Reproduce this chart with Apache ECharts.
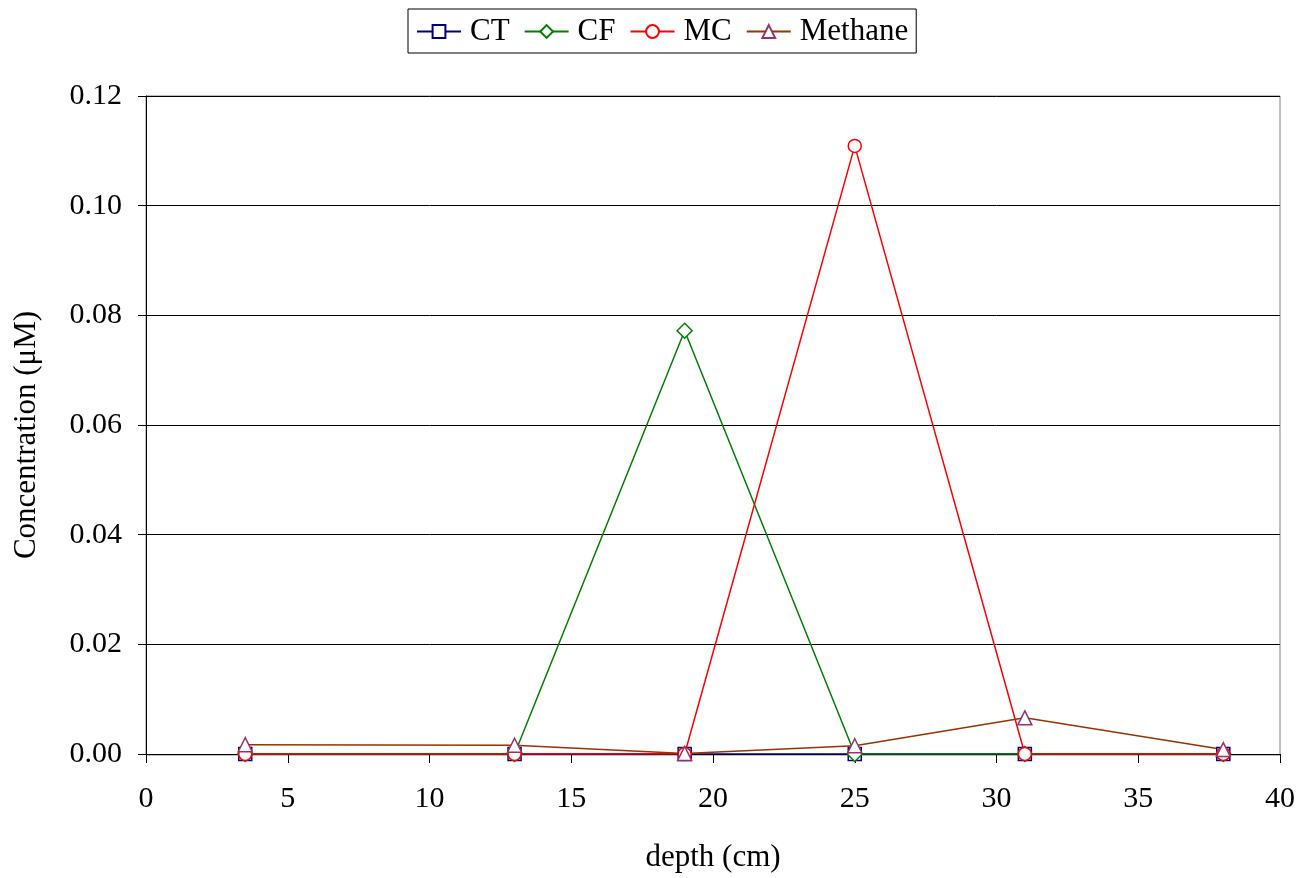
<!DOCTYPE html>
<html>
<head>
<meta charset="utf-8">
<script src="https://cdn.jsdelivr.net/npm/echarts@6/dist/echarts.min.js"></script>
<style>
html,body{margin:0;padding:0;background:#fff;}
#chart{width:1302px;height:878px;}
</style>
</head>
<body>
<div id="chart"></div>
<script>
// Sampling depths (cm)
var depths = [3.5, 13, 19, 25, 31, 38];
// Concentrations (µM) per compound
var ct = [0, 0, 0, 0, 0, 0];
var cf = [0, 0, 0.0772, 0, 0, 0];
var mc = [0, 0, 0, 0.1109, 0, 0];
var methane = [0.0017, 0.0016, 0.0001, 0.0015, 0.0066, 0.0008];

function pairs(vals) {
  return depths.map(function (d, i) { return [d, vals[i]]; });
}

var font = 'Liberation Serif, Times New Roman, serif';

function makeSeries(name, vals, lineColor, markColor, symbol, size) {
  return {
    name: name,
    type: 'line',
    data: pairs(vals),
    symbol: symbol,
    symbolSize: size,
    showAllSymbol: true,
    lineStyle: { color: lineColor, width: 1.5 },
    itemStyle: { color: '#ffffff', borderColor: markColor, borderWidth: 1.5 },
    emphasis: { disabled: true },
    animation: false
  };
}

var chart = echarts.init(document.getElementById('chart'));
chart.setOption({
  backgroundColor: '#ffffff',
  animation: false,
  textStyle: { fontFamily: font },
  legend: {
    top: 9,
    left: 408,
    itemGap: 14,
    itemWidth: 44,
    itemHeight: 16,
    padding: [7, 8, 6, 8],
    borderColor: '#000',
    borderWidth: 1,
    textStyle: { fontFamily: font, fontSize: 31, color: '#000', padding: [0, 0, 0, 4] },
    data: ['CT', 'CF', 'MC', 'Methane']
  },
  grid: { left: 146, right: 22, top: 96, bottom: 123 },
  xAxis: {
    type: 'value',
    min: 0, max: 40, interval: 5,
    name: 'depth (cm)',
    nameLocation: 'middle',
    nameGap: 88,
    nameTextStyle: { fontFamily: font, fontSize: 31, color: '#000' },
    axisLine: { onZero: false, lineStyle: { color: '#000', width: 1 } },
    axisTick: { show: true, length: 9, lineStyle: { color: '#000' } },
    axisLabel: { fontFamily: font, fontSize: 30, color: '#000', margin: 30 },
    splitLine: { show: false }
  },
  yAxis: {
    type: 'value',
    min: 0, max: 0.12, interval: 0.02,
    name: 'Concentration (\u03bcM)',
    nameLocation: 'middle',
    nameGap: 104,
    nameTextStyle: { fontFamily: font, fontSize: 31, color: '#000', padding: [0, 20, 0, 0] },
    axisLine: { show: true, lineStyle: { color: '#000', width: 1 } },
    axisTick: { show: true, length: 8, lineStyle: { color: '#000' } },
    axisLabel: {
      fontFamily: font, fontSize: 30, color: '#000', margin: 24,
      formatter: function (v) { return v.toFixed(2); }
    },
    splitLine: { show: true, lineStyle: { color: '#000', width: 1 } }
  },
  graphic: [{
    type: 'rect',
    shape: { x: 146, y: 96, width: 1134, height: 659 },
    style: { fill: 'none', stroke: '#808080', lineWidth: 1 },
    silent: true,
    z: -1
  }],
  series: [
    makeSeries('CT', ct, '#000080', '#000080', 'rect', 13),
    makeSeries('CF', cf, '#008000', '#008000', 'diamond', 15),
    makeSeries('MC', mc, '#ff0000', '#ff0000', 'circle', 13),
    makeSeries('Methane', methane, '#993300', '#993366', 'triangle', 14)
  ]
});
</script>
</body>
</html>
